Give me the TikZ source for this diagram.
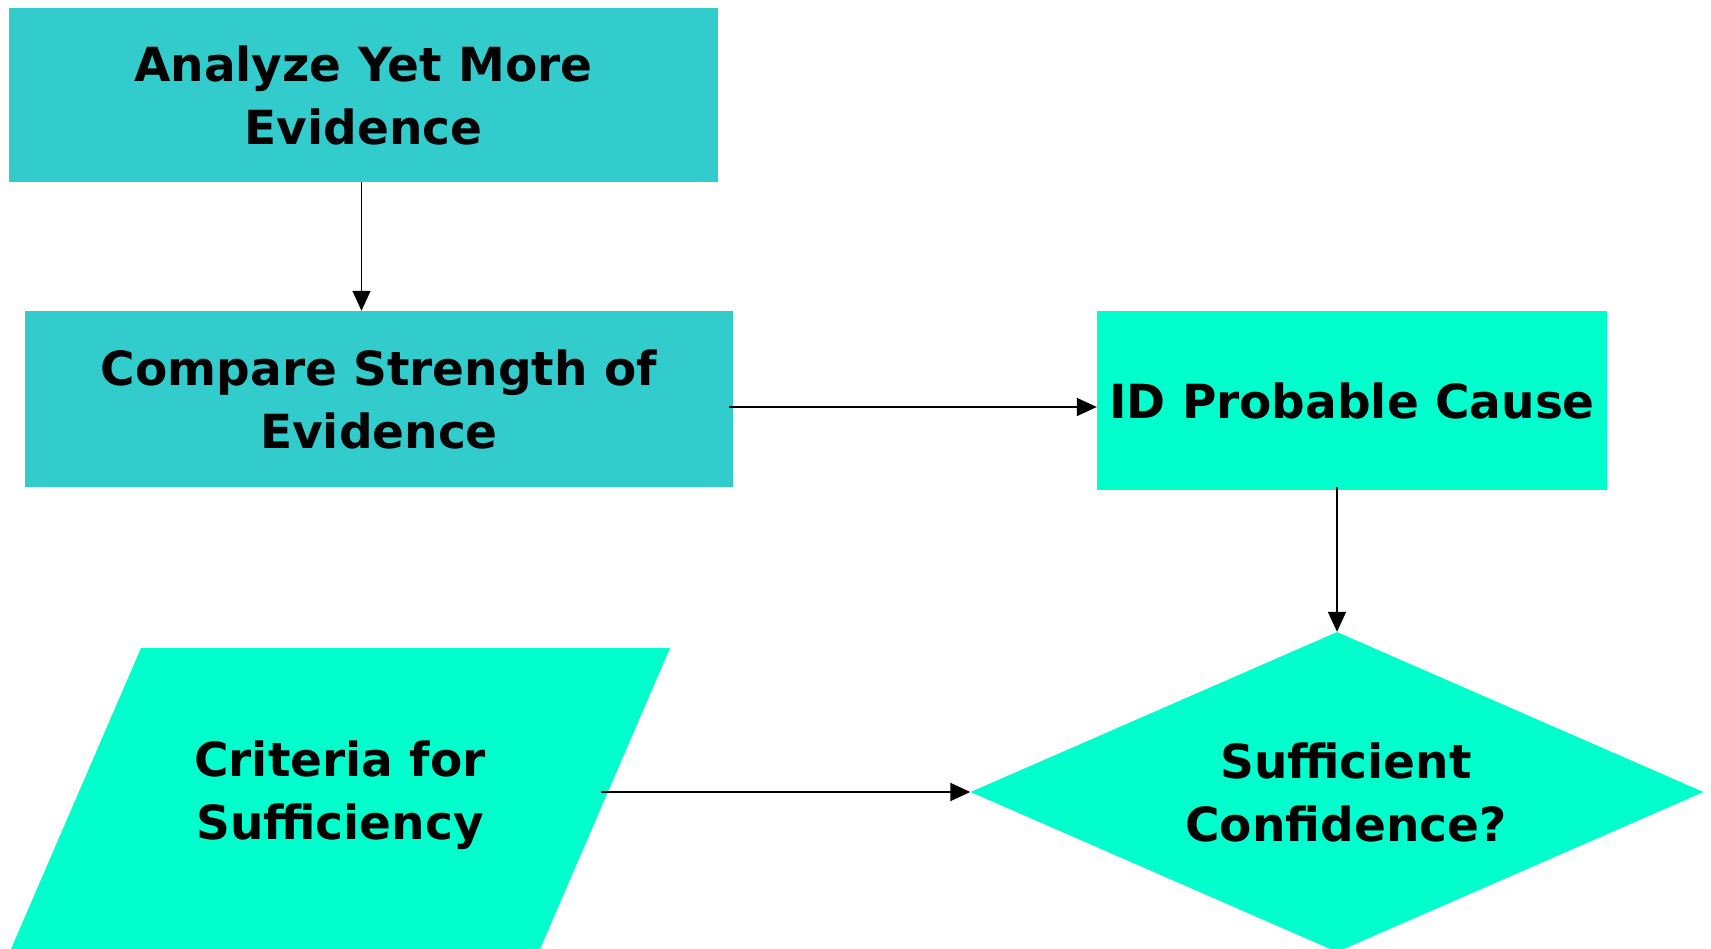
\documentclass[tikz,border=0pt]{standalone}
\usepackage{fontspec}
\setmainfont{DejaVu Sans}
\usetikzlibrary{arrows.meta,shapes.geometric}
\definecolor{procteal}{HTML}{33CCCC}
\definecolor{aquagreen}{HTML}{00FFCC}
\begin{document}
\begin{tikzpicture}[x=1pt,y=-1pt,
  lbl/.style={font=\bfseries\fontsize{47}{63}\selectfont, align=center, inner sep=0pt},
  procbox/.style={lbl, rectangle, draw=none},
  decision/.style={lbl, diamond, aspect=2.29, fill=aquagreen, draw=none},
  conn/.style={-{Triangle[length=20pt,width=18pt]}, line width=1.6pt, black}]
\useasboundingbox (0,0) rectangle (1711,949);

% process boxes
\node[procbox, fill=procteal, minimum width=709pt, minimum height=174pt] (b1) at (363.5,95) {Analyze Yet More\\Evidence};
\node[procbox, fill=procteal, minimum width=708pt, minimum height=176pt] (b2) at (379,399) {Compare Strength of\\Evidence};
\node[procbox, fill=aquagreen, minimum width=510pt, minimum height=179pt] (b3) at (1352,400.5) {ID Probable Cause};

% decision, with its label set a little right of centre
\node[decision, minimum width=733pt, minimum height=320pt] (dec) at (1337,792) {\hspace*{18pt}Sufficient\\\hspace*{18pt}Confidence?};

% input parallelogram
\fill[aquagreen] (141,648) -- (670,648) -- (540,949) -- (11,949) -- cycle;
\node[lbl] (crit) at (340,795) {Criteria for\\Sufficiency};
\coordinate (critout) at (601,792);

% connectors
\draw[conn] ([xshift=-2pt]b1.south) -- ([xshift=-2pt]b1.south |- b2.north);
\draw[conn] ([xshift=-4pt,yshift=-8pt]b2.east) -- ([yshift=-8pt]b2.east -| b3.west);
\draw[conn] ([yshift=3pt]b3.south -| dec.north) -- (dec.north);
\draw[conn] (critout) -- (dec.west);
\end{tikzpicture}
\end{document}
